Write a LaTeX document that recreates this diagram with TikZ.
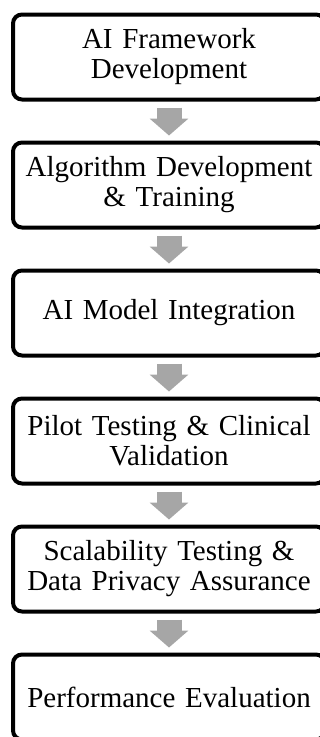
\documentclass[tikz,border=0pt]{standalone}
\usepackage{fontspec}
\setmainfont{Liberation Serif}
\usetikzlibrary{arrows.meta}
\definecolor{arrowgray}{HTML}{A6A6A6}
\tikzset{
  stage/.style={draw=black, line width=4pt, rounded corners=9pt, fill=white,
    minimum width=312pt, minimum height=85pt, text width=300pt, align=center,
    inner sep=0pt, font=\fontsize{29}{30}\selectfont},
  flow/.style={draw=arrowgray, line width=25pt,
    -{Triangle[width=38pt,length=17pt]}, arrowgray,
    shorten <=6pt, shorten >=5pt}
}
\begin{document}
\begin{tikzpicture}[x=1pt,y=-1pt]
        \clip (0,0) rectangle (320,737);
        \node[stage] (1) at (169,57) {AI Framework\\Development};
        \node[stage] (2) at (169,185) {Algorithm Development\\\& Training};
        \node[stage] (3) at (169,313) {AI Model Integration};
        \node[stage] (4) at (169,441) {Pilot Testing \& Clinical\\Validation};
        \node[stage] (5) at (169,569) {Scalability Testing \&\\Data Privacy Assurance};
        \node[stage] (6) at (169,697) {Performance Evaluation};

        \path[flow] (1) -- (2);
        \path[flow] (2) -- (3);
        \path[flow] (3) -- (4);
        \path[flow] (4) -- (5);
        \path[flow] (5) -- (6);
    \end{tikzpicture}
\end{document}
